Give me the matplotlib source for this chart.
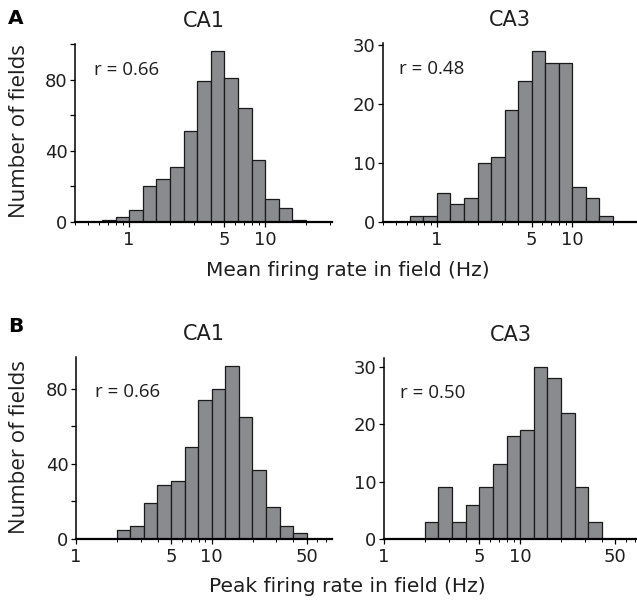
import matplotlib

matplotlib.use("Agg")
import matplotlib.pyplot as plt
import numpy as np
from matplotlib.ticker import FixedLocator, LogLocator, NullFormatter

# counts per log10 bin (bin width 0.1 decades)
mean_ca1 = [1, 3, 7, 20, 24, 31, 51, 79, 96, 81, 64, 35, 13, 8, 1]
mean_ca3 = [1, 1, 5, 3, 4, 10, 11, 19, 24, 29, 27, 27, 6, 4, 1]
peak_ca1 = [5, 7, 19, 29, 31, 49, 74, 80, 92, 65, 37, 17, 7, 3]
peak_ca3 = [3, 9, 3, 6, 9, 13, 18, 19, 30, 28, 22, 9, 3]

mean_start = -0.2  # log10 of first bin edge
peak_start = 0.3
r_values = {"A1": "r = 0.66", "A3": "r = 0.48", "B1": "r = 0.66", "B3": "r = 0.50"}

W, H = 637, 601
fig = plt.figure(figsize=(W / 100, H / 100), dpi=100)
fig.patch.set_facecolor("white")

SANS = ["DejaVu Sans"]
HUMAN = ["Open Sans", "DejaVu Sans"]
INK = "#1e1e1e"


def px_axes(left, right, top, bottom):
    return fig.add_axes([left / W, 1 - bottom / H, (right - left) / W, (bottom - top) / H])


def draw(ax, counts, start, xlim, ylim, yticks, ylabels, xticks, rtext, rpos, title):
    edges = 10 ** (start + 0.1 * np.arange(len(counts) + 1))
    ax.bar(edges[:-1], counts, width=np.diff(edges), align="edge",
           color="#8a8b8e", edgecolor="#1a1a1a", linewidth=0.9, zorder=2)
    ax.set_xscale("log")
    ax.set_xlim(*xlim)
    ax.set_ylim(*ylim)
    for s in ("top", "right"):
        ax.spines[s].set_visible(False)
    ax.spines["left"].set_linewidth(1.1)
    ax.spines["bottom"].set_linewidth(1.6)
    ax.xaxis.set_major_locator(FixedLocator(xticks))
    ax.set_xticklabels([f"{t:g}" for t in xticks], fontsize=13, family=SANS)
    ax.xaxis.set_minor_locator(LogLocator(base=10, subs=np.arange(2, 10)))
    ax.xaxis.set_minor_formatter(NullFormatter())
    ax.set_yticks(yticks)
    ax.set_yticklabels(ylabels, fontsize=13, family=SANS, color=INK)
    ax.tick_params(axis="both", which="major", length=3.5, width=0.9, pad=2)
    ax.tick_params(axis="x", which="minor", length=2, width=0.7)
    ax.tick_params(axis="x", which="major", pad=3, labelcolor=INK)
    ax.text(rpos[0], rpos[1], rtext, transform=ax.transAxes, fontsize=13.5,
            family=HUMAN, va="center", ha="left", color=INK)
    ax.set_title(title, fontsize=15, family=SANS, pad=12, color=INK)


ax1 = px_axes(75, 332, 44, 222)
draw(ax1, mean_ca1, mean_start, (0.4, 31), (0, 100), [0, 20, 40, 60, 80, 100],
     ["0", "", "40", "", "80", ""], [1, 5, 10], r_values["A1"], (0.074, 0.854), "CA1")
ax2 = px_axes(383, 637, 43, 222)
draw(ax2, mean_ca3, mean_start, (0.4, 30), (0, 30.4), [0, 10, 20, 30],
     ["0", "10", "20", "30"], [1, 5, 10], r_values["A3"], (0.063, 0.854), "CA3")
ax3 = px_axes(76, 332, 357, 539)
draw(ax3, peak_ca1, peak_start, (1, 77), (0, 97), [0, 20, 40, 60, 80],
     ["0", "", "40", "", "80"], [1, 5, 10, 50], r_values["B1"], (0.074, 0.808), "CA1")
ax4 = px_axes(384, 637, 358, 539)
draw(ax4, peak_ca3, peak_start, (1, 72), (0, 31.5), [0, 10, 20, 30],
     ["0", "10", "20", "30"], [1, 5, 10, 50], r_values["B3"], (0.063, 0.807), "CA3")

# shared labels
fig.text(348 / W, 1 - 271 / H, "Mean firing rate in field (Hz)", ha="center",
         va="center", fontsize=14.5, family=SANS, color=INK)
fig.text(347 / W, 1 - 586 / H, "Peak firing rate in field (Hz)", ha="center",
         va="center", fontsize=14.5, family=SANS, color=INK)
fig.text(20 / W, 1 - 131 / H, "Number of fields", rotation=90, ha="center",
         va="center", fontsize=16, family=HUMAN, color=INK)
fig.text(20 / W, 1 - 447 / H, "Number of fields", rotation=90, ha="center",
         va="center", fontsize=16, family=HUMAN, color=INK)
fig.text(8 / W, 1 - 18 / H, "A", ha="left", va="center", fontsize=14.5,
         fontweight="bold", family=SANS)
fig.text(8 / W, 1 - 327 / H, "B", ha="left", va="center", fontsize=14.5,
         fontweight="bold", family=SANS)

fig.savefig("out.png", dpi=100, facecolor="white")
